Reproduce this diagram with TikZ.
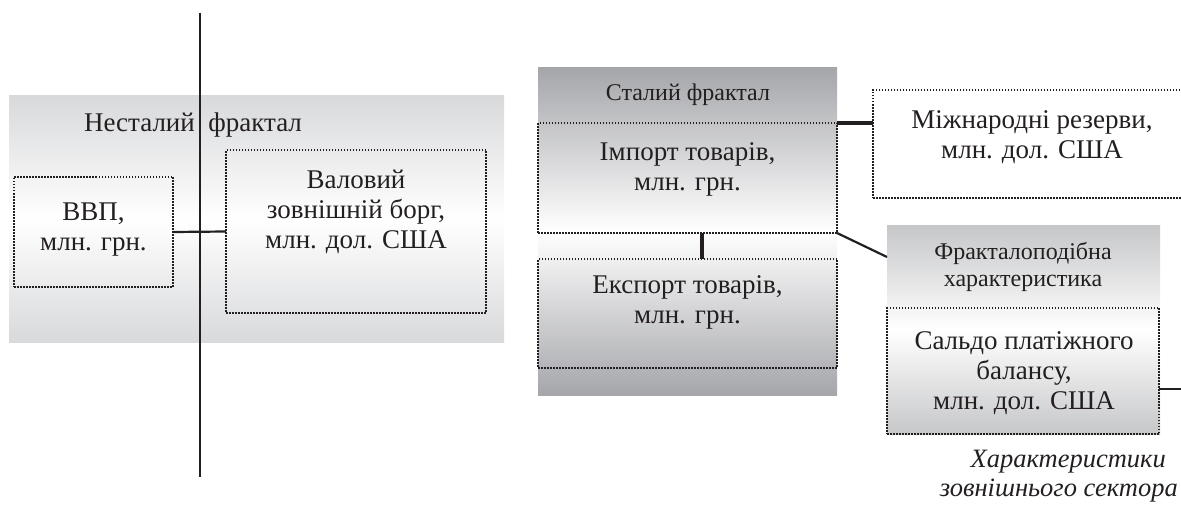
\documentclass[tikz,border=0pt]{standalone}
\usepackage{fontspec}
\setmainfont{Liberation Serif}
\usetikzlibrary{calc}
\definecolor{lpanel}{RGB}{216,217,219}
\definecolor{rpanel}{RGB}{165,166,170}
\definecolor{fpanel}{RGB}{198,199,201}
\definecolor{ink}{RGB}{35,31,32}
\begin{document}
\begin{tikzpicture}[x=1pt,y=1pt,
  panel/.style={draw=none, inner sep=0pt, outer sep=0pt, rectangle},
  dotbox/.style={draw=ink, line width=1.5pt, dash pattern=on 1.5pt off 1.5pt, inner sep=0pt, outer sep=0pt, rectangle},
  lbl/.style={align=center, inner sep=0pt, text=ink, font=\fontsize{27}{30}\selectfont},
  ttl/.style={align=center, inner sep=0pt, text=ink, font=\fontsize{24}{27}\selectfont},
  conn/.style={line width=2.2pt, draw=ink},
  heavyconn/.style={line width=4.3pt, draw=ink}
]
\useasboundingbox (0,0) rectangle (1181,504);
\clip (0,0) rectangle (1181,504);

% panels
\node[panel, minimum width=495pt, minimum height=246pt, top color=lpanel, bottom color=lpanel, middle color=white] (lpan) at (256.5,285) {};
\node[panel, minimum width=299pt, minimum height=327pt, top color=rpanel, bottom color=rpanel, middle color=white] (rpan) at (687.5,272.5) {};
\node[panel, minimum width=273pt, minimum height=208pt, top color=fpanel, bottom color=fpanel, middle color=white] (fpan) at (1023.5,174) {};

% dotted boxes
\node[dotbox, minimum width=159pt, minimum height=110pt] (gdp) at (93.5,272) {};
\node[dotbox, minimum width=260pt, minimum height=163pt] (debt) at (356,272.5) {};
\node[dotbox, minimum width=299pt, minimum height=110pt] (imp) at (687.5,326) {};
\node[dotbox, minimum width=299pt, minimum height=109pt] (exp) at (687.5,190.5) {};
\node[dotbox, minimum width=317pt, minimum height=108pt] (res) at (1031.5,360) {};
\node[dotbox, minimum width=272pt, minimum height=126pt] (bal) at (1023,133) {};

% texts
\node[lbl] (t1) at (193,379) {Несталий\ \ фрактал};
\node[lbl] (tgdp) at (93.5,274) {ВВП,\\млн. грн.};
\node[lbl] (tdebt) at (356,292) {Валовий\\зовнішній борг,\\млн. дол. США};
\node[ttl] (t2) at (688,409) {Сталий фрактал};
\node[lbl] (timp) at (687.5,335) {Імпорт товарів,\\млн. грн.};
\node[lbl] (texp) at (687.5,202) {Експорт товарів,\\млн. грн.};
\node[lbl] (tres) at (1032,367) {Міжнародні резерви,\\млн. дол. США};
\node[ttl] (t3) at (1023,237) {Фракталоподібна\\характеристика};
\node[lbl] (tbal) at (1024,131) {Сальдо платіжного\\балансу,\\млн. дол. США};
\node[lbl, align=right, anchor=east, font=\fontsize{26.5}{29}\selectfont\itshape] (tnote) at (1178,28) {Характеристики\hspace*{12pt}\\зовнішнього сектора};

% connectors
\coordinate (vtop) at (200,491);
\coordinate (vbot) at (200,27);
\draw[conn] (vtop) -- (vbot);
\draw[conn] (gdp.east) -- (debt.west);
\draw[heavyconn] ([xshift=14.5pt]imp.south) -- ([xshift=14.5pt]exp.north);
\draw[heavyconn] (imp.north east) -- (imp.north east -| res.west);
\draw[conn] (imp.south east) -- ([yshift=-31pt]fpan.north west);
\coordinate (redge) at (1183,115);
\draw[conn] ([yshift=-18pt]bal.east) -- (redge);
\end{tikzpicture}
\end{document}
